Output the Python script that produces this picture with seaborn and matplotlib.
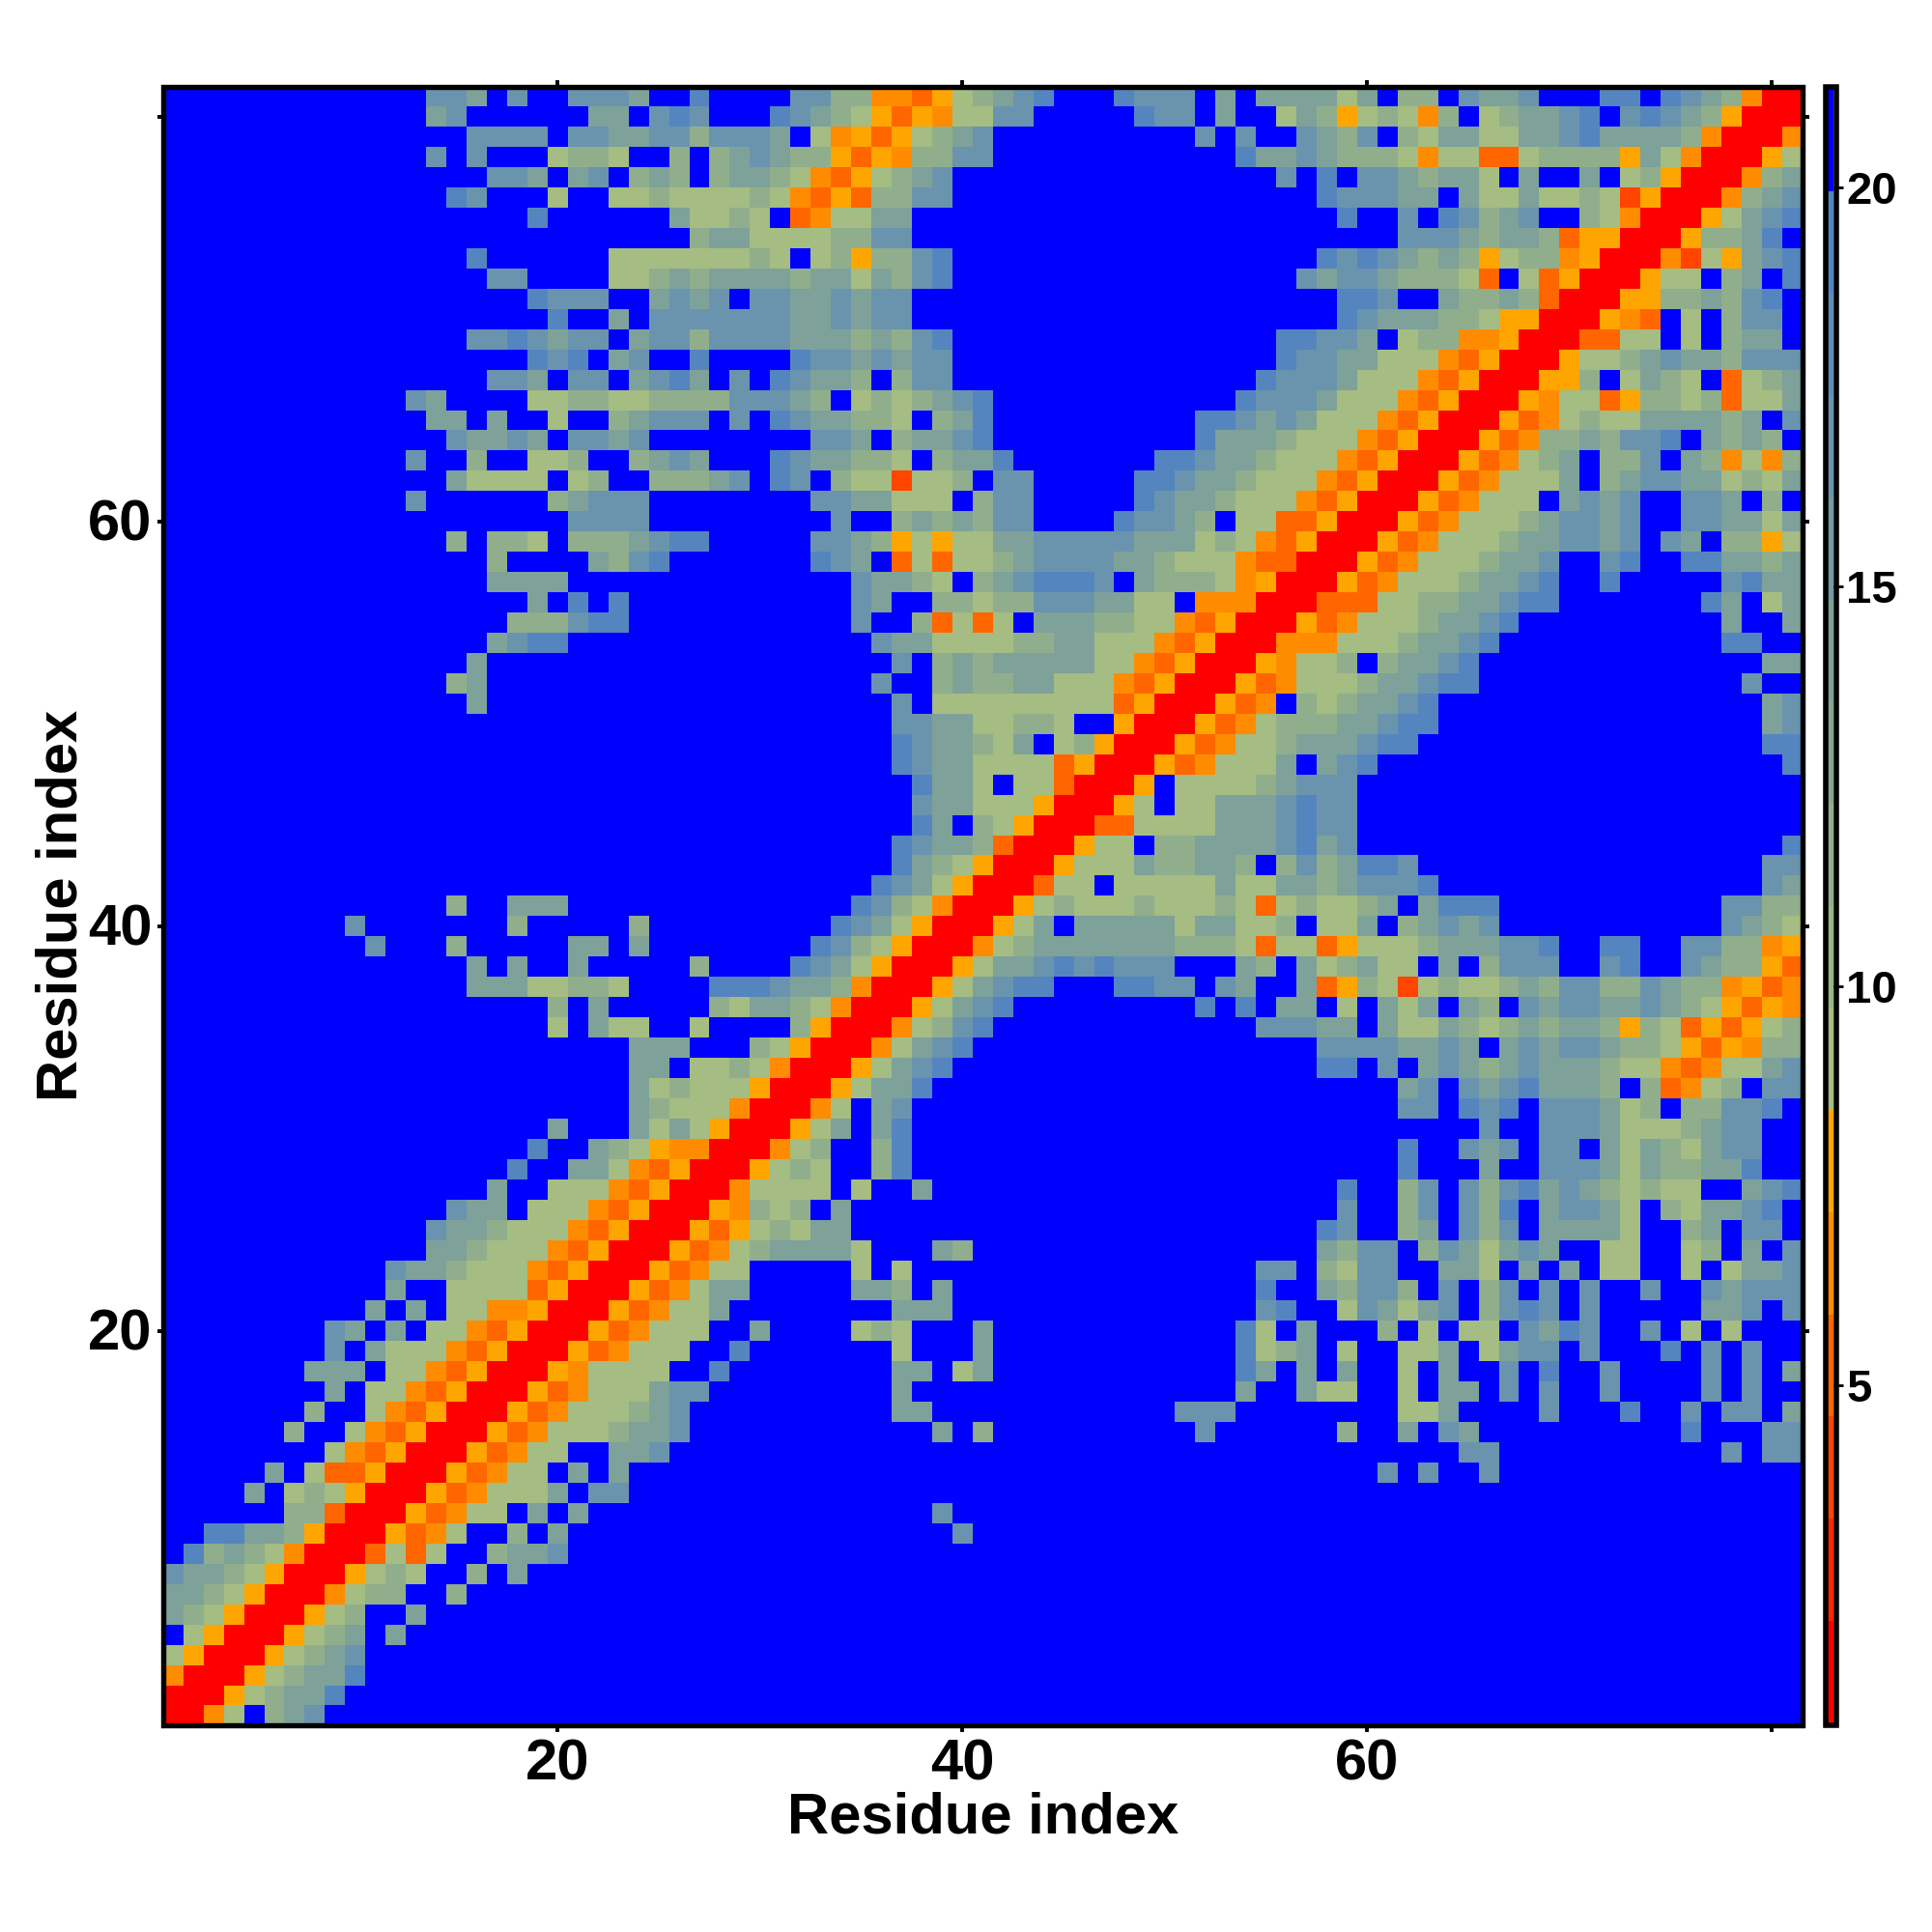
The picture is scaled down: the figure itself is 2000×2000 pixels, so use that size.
import re
import numpy as np
import seaborn as sns
import matplotlib.pyplot as plt
from matplotlib.colors import ListedColormap
from matplotlib.patches import Rectangle
from matplotlib.transforms import ScaledTranslation

# contact map, one row per residue from 81 down to 1
# pieces are residues 1-28, 29-54, 55-81, a number repeats the next letter
rows = [
    "13.mmk.m..mmmk..o. ...mmiiOODAgikmo...ommm.k. kkkkgk.ii.mkkm...oo.omkiORR",
    "13.km6.kk.mom. ..omkigADAOggmm.....omm.k. .gkiAgigOi.gikkmo.momkiARRR",
    "15.mmmm.mmkkmmim mmk.gOADAgikm10.m.m ..mkim.igkkggkkmokkkkiORRRO",
    "13.m.m...giig..i.i kmkiiADAOiimm12.o kkmkiiigOggDDgiiiiAkgORRRAg",
    "16.mmk.km.iki.i kkigODAgikm15. .m.o.mmkikkg.k..k.giARRROik",
    "14.om...g..ggiggg gigODADiimm15. ...ommmkk.kggkggigSARRROikm",
    "18.o6.kgg ig.DOggkk17. ....o..m.omikm..igORRRAgkmo",
    "26.ik kggggiimm17. 7.mmmkikkiDAARRRAiiko.",
    "15.o6.gggggg gig.giAiimo15. ...omomkikiAgiiOARRROSgAkmo",
    "16.mm....ggikik kkkikkgkimo15. ..mkmmkiiigD.gDARRRAgg.ik.o",
    "18.ommm..kmkm .mmkkmkmm17. ....oom..kiikiDRRRAAiikimo.",
    "19.o..k.mmmm mmmkkmkmm17. ....omkkkiigAARRRAOD.g.imm.",
    "15.mmomkmm.kmmim mmmkkkikimo15. .oommk.giiOOARRRDDgg.g.ikk.",
    "18.omo.km..o. ...ommkmkmm15. .ommkkgggODARRRAggikmkkimmm",
    "16.mmk.mm.kmok. m.omkki.imm15. ommmkgggODARRRAAi.gkig.Dgik",
    "12.mk....ggiiggiiii mmmki.gigikmo12.o mmmkgggODARRRAOggDAiigiDggk",
    "13.kk.k..g..ikmmm. m.omkkiig.iko10.oom kmkgggODARRRADOgiggkkkkik.m",
    "14.mkkmk.mmkm.... ....mmk.ikkmo10.okk kigggODARRRADOiikimmo.kiki.",
    "12.m..i..ggi..ikmk. ..omkkiig.ikko7.oomkk igggODARRRADOgik.iim.kiOgOi",
    "14.kgggg.gi..iiik m.om.iggSggi.mm5.oomkki gggODARRRADOgggk.ikmmkkgigk",
    "12.m6.ikmmm.... ....mmkkggg.imm5.omkkig ggODARRRADOggg.kmkm..mmk.i.",
    "20.mmmm.... .....m..ikikimm....ommki.g gDDARRRADOgggikmmkm..mmkkgk",
    "14.i.iig.iiikmoo. ....mmkiAgAggkkmmmmmkkkgig ODARRRADOgggikkmmkm.mk.iiAg",
    "16.i....kimo... ....omk.DgDggikmmmmkkigggO DDRRRADOgggikkm..mo..ookkik",
    "16.kkkk8. 6.mkkig.ikmooom.kiiigO ARRRADOgggikkmo..o5.mokk",
    "18.k.o.o5. 6.mk..iigiimmmkkgg.OOO RRRDDDggiikkmoo7.ok.gk",
    "17.iiimoo5. 6.m..iDgDg.kkkiiggODAR RRADOgggikkmo10.k..k",
    "16.kmoo8. 7.mkkggggiikkgggODARR ROOOgggikkmo11.oo..",
    "15.k12. 8.m.ikikkkkkggODARRR AOggi.ikkmo14.kk",
    "14.ik12. 7.m..ikiikkgggODARRRA DOgggikkmoo13.m..",
    "15.k12. 8.m.9gDARRRAD O.igikkmo16.km",
    "28. 8.mmkkggiig..ARRRADO giiikkmoo16.km",
    "28. 8.omkkigk.giARRRADOg gikkkmoo17.oo",
    "28. 8.omkkggggDARRRADOgg gk.kmo20.o",
    "28. 9.okkg.ggDRRRA.gggg ikmmm22.",
    "28. 9.mkkgggARRRAg.ggkk kmomm22.",
    "28. 9.ok.igARRRDDggggkk kmomm22.",
    "28. 8.omkkiDRRRAgg.iikkk kmokm21.o",
    "28. 8.okigARRRAgggkiikki .imikoom17.mm",
    "28. 7.omkgARRRDgg.gggggkg gkkikmmmo16.mk",
    "14.i..kkk8. 6.omigORRRAgigggigggig Dgiggik.kooo11.mmii",
    "9.m7.i5.i.... 5.omkgARRRAgk.kkkkkgkkg gi.ggk.ikmkm11.mkig",
    "10.m...i5.kk.k.... ....omigARRROgikkkkkkkiiig DggDAgggikkkmmo..oo..mmiiOA",
    "15.k.k..k5.i. ...omkgARRRAgkkmomommm...k i.kgikgg.k.immm..mo..mkiiAD",
    "15.kkkggiig....o oomkkiORRRAgkmoo...oomm.mk ..kDAigSgiggikimmiimkiiOADO",
    "19.i.k5.i gkkigORRRAgkmo9.o.o .kk.g.kgk.ki.mkmmkkmkigADAO",
    "19.g.kgg..g. ...iARRROgimo13. mmmkk.kggkigikikkiAigDADAgi",
    "23.kkk.. .igARRROgkmo14. ...mmmmkkmk.kmkmmkiigADAOii",
    "23.kk.gg igORRRAgkmo15. ...oo.m.kmkikmkkkiggODOggkm",
    "23.kgigg gARRRAgkko16. 7.km.mkmokkki.iDOgi.mm",
    "23.kiggg ORRROg.km17. 7.mm.omo.mmmkgi.iimmo.",
    "19.k...kgkgA RRRAgk.ko17. 11.m..mmmkgggikmm..",
    "18.o..kigAOOR RROgi..io17. 7.o..mkm.mm.kgkigkmm..",
    "17.o..kkgODARR RAgig..io17. 7.o...k..mmmkgkiikko..",
    "16.k..gggODARRR Ogggg.g..k16. ....o..im.mimokmkigigg..kmo",
    "14.mkk.gggODARRRA Oigi.k20. ....m..im.mio.kmmkg.igkkmo.",
    "13.mkkigggODARRRAD Agigkk20. ...om..ik.mim.kkkkg..ik.mm.",
    "13.kkigggODARRRADO gikkkkg...ki14. ...kimm.imkgkmk..gg..gi.k.m",
    "11.mkkigggODARRRADOg g5.g.g17. mm.igmm..kkg.k.k.gg..g.gkkm",
    "11.k..ggggDARRRADOgk k5.kki.k15. o..kimmi.m.im.m.m..m..mkmmm",
    "10.k.k.ggOOARRRADOggk 8.kkk15. mo..gmkgkm.imom.m5.kkm.m",
    "8.mk.k.ggODARRRADOggg. .k....gig...k12.o g.k...i.g.gg.mkom..m.g.g...",
    "8.m.kgggODARRRADOggg.. o7.g...k12.o gik.g..ggk.gkmm.m...o.m.m..",
    "7.kkk.ggODARRRAOgggg..o 8.kk.gk12.o k.k.k..g.k..m.o..m....m.m.k",
    "8.k.ggODARRRADOgggkmm. 8.k16.k ..kgg..g.kk.m.m..m....m.m..",
    "7.i..gODARRRADOgggikm.. 8.kk12.mmm. 7.ggk....m...o..m.mm.k",
    "6.i..gODARRRADOgggikkm.. 10.k.i10.m.. ....i..k.mk10.o...mm",
    "8.gODARRRADOgg..kkm... 26. 10.mm11.m.mm",
    "5.k.gDDARRRADOgg.k.k5. 26. 6.m.m..m15.",
    "4.k.gigARRRADOgggk.mm5. 26. 27.",
    "6.iiDRRRADOgg.k.k7. 10.m15. 27.",
    "..ookkiARRRADOg..i.k8. 11.m14. 27.",
    ".oikigORRRDgDg..ikkm8. 26. 27.",
    "mkkigARRRAgig..i.k10. 26. 27.",
    "kkigARRROgii..i13. 26. 27.",
    "kigARRRAgi..k15. 26. 27.",
    ".gARRRAgik.k16. 26. 27.",
    "gARRRAgikm18. 26. 27.",
    "ORRRAgikko18. 26. 27.",
    "RRRAgikko19. 26. 27.",
    "RROg.ikm20. 26. 27.",
]

# distance given to each letter, middle of its colour band
code_values = {"R": 1.4, "S": 4.0, "D": 5.3, "O": 6.5, "A": 7.8, "g": 9.1,
               "i": 11.6, "k": 14.2, "m": 16.8, "o": 19.3, ".": 20.6}

level_colors = ["#FF0000", "#FF2500", "#FF4500", "#FF6600", "#FF8C00", "#FFA500",
                "#A5BC82", "#9BB587", "#91AE8C", "#87A792", "#7EA19A", "#749AA3",
                "#6A94AD", "#608DB6", "#5585BF", "#0000FF"]
cbar_ticks = [5, 10, 15, 20]
axis_ticks = [20, 40, 60, 80]
axis_labels = ["20", "40", "60", ""]


def decode(piece, size):
    out = ""
    for count, ch in re.findall(r"(\d*)(\D)", piece):
        out += ch * (int(count) if count else 1)
    if len(out) != size:
        print("bad length", piece, len(out))
    return out.ljust(size, ".")[:size]


def px_box(x0, y0, x1, y1):
    # pixel box of the 2000x2000 picture to figure fractions
    return [x0 / 2000, 1 - y1 / 2000, (x1 - x0) / 2000, (y1 - y0) / 2000]


def frame(fig, x0, y0, x1, y1, lw):
    b = px_box(x0, y0, x1, y1)
    fig.add_artist(Rectangle((b[0], b[1]), b[2], b[3], transform=fig.transFigure,
                             fill=False, edgecolor="black", linewidth=lw,
                             joinstyle="miter", zorder=5))


matrix = []
for row in rows:
    a, b, c = row.split(" ")
    text = decode(a, 28) + decode(b, 26) + decode(c, 27)
    matrix.append([code_values[ch] for ch in text])
matrix = np.array(matrix)

sns.set_theme(style="white")
plt.rcParams["font.family"] = ["Liberation Sans", "DejaVu Sans"]
plt.rcParams["font.weight"] = "bold"
plt.rcParams["axes.labelweight"] = "bold"

fig = plt.figure(figsize=(10, 10), dpi=200)
ax = fig.add_axes(px_box(171.5, 92, 1863.5, 1783.5))
cax = fig.add_axes(px_box(1892.3, 92, 1898.3, 1783.5))

sns.heatmap(matrix, ax=ax, cbar_ax=cax, cmap=ListedColormap(level_colors),
            vmin=0.78, vmax=21.23, cbar_kws={"ticks": cbar_ticks})

# first and last cells are cut a little by the frame
ax.set_xlim(0.13, 80.89)
ax.set_ylim(80.86, 0.13)
ax.set_xticks([v - 0.5 for v in axis_ticks])
ax.set_xticklabels(axis_labels, rotation=0)
ax.set_yticks([81.5 - v for v in axis_ticks])
ax.set_yticklabels(axis_labels, rotation=0)
ax.tick_params(axis="both", which="major", direction="out", length=3.2, width=1.4,
               color="black", labelsize=21.5, top=True, right=True, bottom=True,
               left=True, pad=2.5, labelcolor="black")
ax.tick_params(axis="y", pad=1.8)
ax.set_xlabel("Residue index", fontsize=21.5, fontweight="bold", labelpad=0, color="black")
ax.set_ylabel("Residue index", fontsize=21.5, fontweight="bold", labelpad=0, color="black")
for side in ax.spines.values():
    side.set_visible(False)

# y labels sit a touch lower in the original
down = ScaledTranslation(0, -1.4 / 72, fig.dpi_scale_trans)
for label in ax.get_yticklabels():
    label.set_transform(label.get_transform() + down)

cax.tick_params(axis="y", direction="out", right=True, length=3.6, width=1.0, color="black",
                labelsize=17, pad=1, labelcolor="black")
for side in cax.spines.values():
    side.set_visible(False)

frame(fig, 169.4, 89.8, 1865.6, 1785.7, 1.95)
frame(fig, 1889.5, 89.5, 1900.8, 1786, 2.0)

fig.savefig("out.png", dpi=200, facecolor="white")
